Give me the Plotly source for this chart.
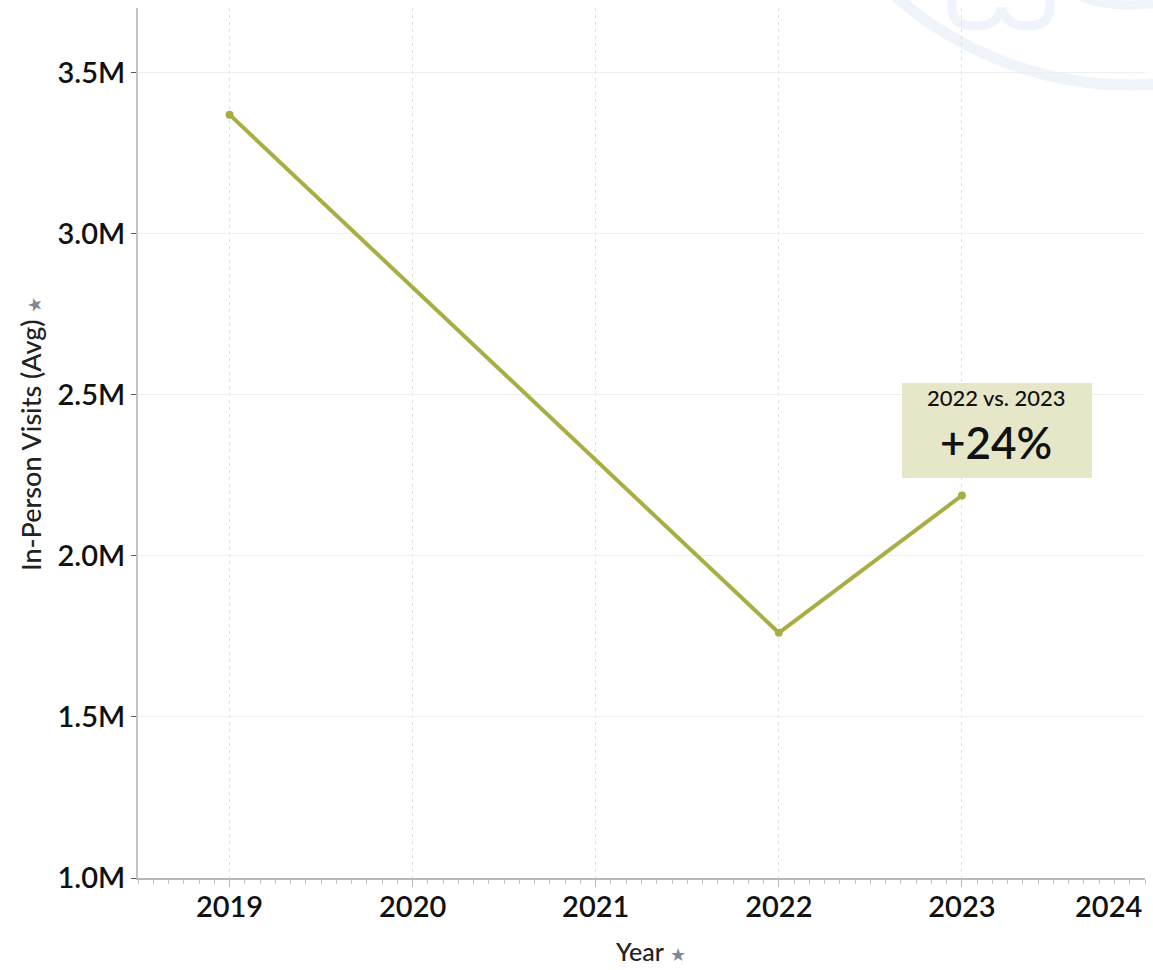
import plotly.graph_objects as go

# Average in-person visits by year
years = [2019, 2022, 2023]
visits = [3369000, 1761000, 2187000]

x_tick_years = [2019, 2020, 2021, 2022, 2023, 2024]
y_tick_values = [1000000, 1500000, 2000000, 2500000, 3000000, 3500000]
y_tick_labels = ["1.0M", "1.5M", "2.0M", "2.5M", "3.0M", "3.5M"]

callout_title = "2022 vs. 2023"
callout_value = "+24%"

LINE = "#a9ae44"
FONT = "Lato, 'Open Sans', sans-serif"
W, H = 1153, 970
ML, MR, MT, MB = 138, 8, 8, 92
PW, PH = W - ML - MR, H - MT - MB


def px(xp):
    return (xp - ML) / PW


def py(yp):
    return (H - MB - yp) / PH


fig = go.Figure()
fig.add_trace(go.Scatter(
    x=years, y=visits, mode="lines+markers",
    line=dict(color=LINE, width=4),
    marker=dict(color=LINE, size=8),
    hoverinfo="skip", showlegend=False,
))

WM = "#eff4fa"
shapes = []
# faint logo arcs in the upper right corner
shapes.append(dict(type="circle", xref="paper", yref="paper",
                   x0=px(776), x1=px(1484), y0=py(85), y1=py(-623),
                   line=dict(color=WM, width=11), layer="below"))
shapes.append(dict(type="path", xref="paper", yref="paper", layer="below",
                   path=(f"M {px(952)},{py(-5)} L {px(952)},{py(8)} "
                         f"Q {px(952)},{py(26)} {px(975)},{py(26)} "
                         f"Q {px(998)},{py(26)} {px(1002)},{py(8)} "
                         f"Q {px(1006)},{py(26)} {px(1027)},{py(26)} "
                         f"Q {px(1050)},{py(26)} {px(1050)},{py(8)} "
                         f"L {px(1050)},{py(-5)}"),
                   line=dict(color=WM, width=9)))
shapes.append(dict(type="path", xref="paper", yref="paper", layer="below",
                   path=(f"M {px(1080)},{py(-5)} Q {px(1100)},{py(8)} "
                         f"{px(1153)},{py(4)}"),
                   line=dict(color=WM, width=9)))
# callout box
shapes.append(dict(type="rect", xref="paper", yref="paper",
                   x0=px(902), x1=px(1092), y0=py(478), y1=py(383),
                   fillcolor="#e6e7c8", line=dict(width=0), layer="above"))

PIN = "<span style='color:#7d8898;font-size:18px'>★</span>"
annotations = [
    dict(text=callout_title, xref="paper", yref="paper", x=px(996), y=py(397),
         showarrow=False,
         font=dict(family=FONT, size=22, color="#111111", weight=500),
         xanchor="center", yanchor="middle"),
    dict(text=callout_value, xref="paper", yref="paper",
         x=px(996), y=py(442), showarrow=False,
         font=dict(family=FONT, size=44, color="#111111", weight=600),
         xanchor="center", yanchor="middle"),
    dict(text=f"In-Person Visits (Avg) {PIN}",
         xref="paper", yref="paper", x=px(30), y=py(434), textangle=-90,
         showarrow=False,
         font=dict(family=FONT, size=27, color="#222222", weight=500),
         xanchor="center", yanchor="middle"),
    dict(text=f"Year {PIN}",
         xref="paper", yref="paper", x=px(650), y=py(951),
         showarrow=False,
         font=dict(family=FONT, size=25, color="#222222", weight=500),
         xanchor="center", yanchor="middle"),
    # last year label sits flush against the right edge of the axis
    dict(text=str(x_tick_years[-1]), xref="x", yref="paper",
         x=x_tick_years[-1], y=py(905), showarrow=False,
         font=dict(family=FONT, size=29, color="#111111", weight=600),
         xanchor="right", yanchor="middle", xshift=-1),
]

fig.update_layout(
    width=W, height=H,
    margin=dict(l=ML, r=MR, t=MT, b=MB),
    paper_bgcolor="white", plot_bgcolor="white",
    shapes=shapes, annotations=annotations,
    font=dict(family=FONT, color="#111111"),
)
fig.update_xaxes(
    range=[2018.5, 2024.0], tickvals=x_tick_years[:-1],
    ticktext=[str(v) for v in x_tick_years[:-1]],
    tickfont=dict(family=FONT, size=29, color="#111111", weight=600),
    ticklabelstandoff=-5,
    showgrid=True, gridcolor="#dddddd", griddash="3px,4px", gridwidth=1,
    showline=True, linecolor="#b8b8b8", linewidth=2,
    ticks="outside", ticklen=7, tickcolor="#b8b8b8", tickwidth=1,
    minor=dict(tick0=2019, dtick=1 / 12, ticks="outside", ticklen=4,
               tickcolor="#c4c4c4", showgrid=False),
    zeroline=False, fixedrange=True,
)
fig.update_yaxes(
    range=[1000000, 3700000], tickvals=y_tick_values, ticktext=y_tick_labels,
    tickfont=dict(family=FONT, size=29, color="#111111", weight=600),
    showgrid=True, gridcolor="#eeeeee", gridwidth=1,
    showline=True, linecolor="#c4c4c4", linewidth=2,
    ticks="outside", ticklen=5, tickcolor="#555555", tickwidth=1,
    zeroline=False, fixedrange=True,
)

fig.write_html("out.html", config={"displayModeBar": False})
